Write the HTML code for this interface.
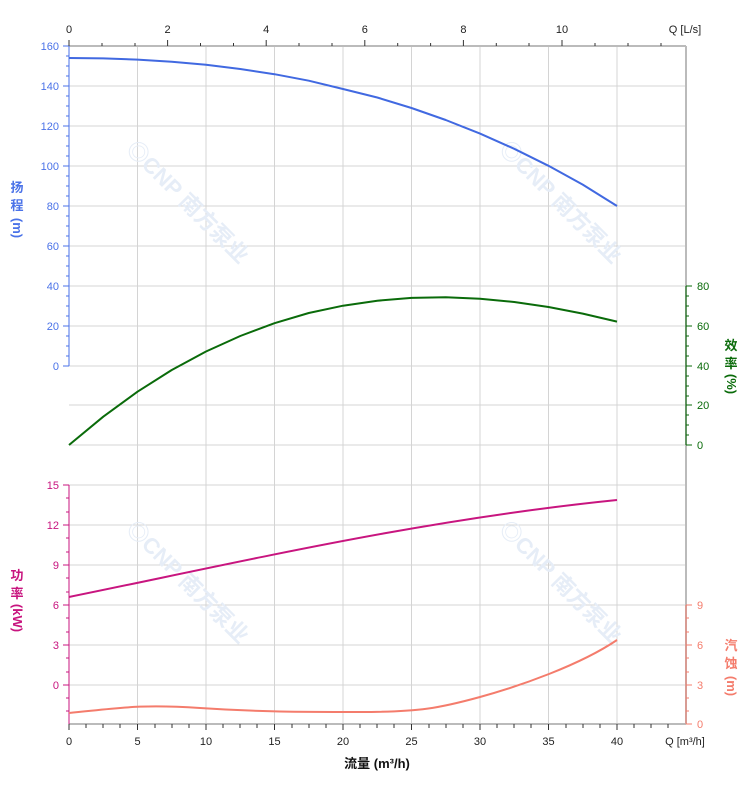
<!DOCTYPE html><html><head><style>body{margin:0;background:#fff}svg{display:block;font-family:"Liberation Sans","Noto Sans CJK SC",sans-serif}</style></head><body>
<svg width="752" height="797" viewBox="0 0 752 797">
<g stroke="#d4d4d4" stroke-width="1">
<line x1="69" y1="86" x2="686" y2="86"/><line x1="69" y1="126" x2="686" y2="126"/><line x1="69" y1="166" x2="686" y2="166"/><line x1="69" y1="206" x2="686" y2="206"/><line x1="69" y1="246" x2="686" y2="246"/><line x1="69" y1="286" x2="686" y2="286"/><line x1="69" y1="326" x2="686" y2="326"/><line x1="69" y1="366" x2="686" y2="366"/><line x1="69" y1="405" x2="686" y2="405"/><line x1="69" y1="445" x2="686" y2="445"/><line x1="69" y1="485" x2="686" y2="485"/><line x1="69" y1="525" x2="686" y2="525"/><line x1="69" y1="565" x2="686" y2="565"/><line x1="69" y1="605" x2="686" y2="605"/><line x1="69" y1="645" x2="686" y2="645"/><line x1="69" y1="685" x2="686" y2="685"/>
<line x1="137.5" y1="46" x2="137.5" y2="724"/><line x1="206" y1="46" x2="206" y2="724"/><line x1="274.5" y1="46" x2="274.5" y2="724"/><line x1="343" y1="46" x2="343" y2="724"/><line x1="411.5" y1="46" x2="411.5" y2="724"/><line x1="480" y1="46" x2="480" y2="724"/><line x1="548.5" y1="46" x2="548.5" y2="724"/><line x1="617" y1="46" x2="617" y2="724"/>
</g>
<g stroke="#bbb" stroke-width="2"><line x1="69" y1="46" x2="686" y2="46"/><line x1="69" y1="724" x2="686" y2="724"/><line x1="686" y1="46" x2="686" y2="724"/></g>
<g fill="#e6edf7" font-weight="bold" font-size="22">
<text transform="translate(125,150) rotate(45)">◎CNP 南方泵业</text>
<text transform="translate(498,150) rotate(45)">◎CNP 南方泵业</text>
<text transform="translate(125,530) rotate(45)">◎CNP 南方泵业</text>
<text transform="translate(498,530) rotate(45)">◎CNP 南方泵业</text>
</g>
<g stroke="#4a72e8"><line x1="69" y1="46" x2="69" y2="366"/>
<path d="M63 46h6M63 86h6M63 126h6M63 166h6M63 206h6M63 246h6M63 286h6M63 326h6M63 366h6M66 56h3M66 66h3M66 76h3M66 96h3M66 106h3M66 116h3M66 136h3M66 146h3M66 156h3M66 176h3M66 186h3M66 196h3M66 216h3M66 226h3M66 236h3M66 256h3M66 266h3M66 276h3M66 296h3M66 306h3M66 316h3M66 336h3M66 346h3M66 356h3"/></g>
<g fill="#4a72e8" font-size="11" text-anchor="end"><text x="59" y="50">160</text><text x="59" y="90">140</text><text x="59" y="130">120</text><text x="59" y="170">100</text><text x="59" y="210">80</text><text x="59" y="250">60</text><text x="59" y="290">40</text><text x="59" y="330">20</text><text x="59" y="370">0</text></g>
<g fill="#4a72e8" font-size="13" font-weight="bold" text-anchor="middle"><text x="17" y="192">扬</text><text x="17" y="210">程</text><text x="17" y="232" transform="rotate(90 17 228)">(m)</text></g>
<g stroke="#c8157f"><line x1="69" y1="485" x2="69" y2="724"/>
<path d="M63 485h6M63 525h6M63 565h6M63 605h6M63 645h6M63 685h6M66 498h3M66 512h3M66 538h3M66 552h3M66 578h3M66 592h3M66 618h3M66 632h3M66 658h3M66 672h3M66 698h3M66 711h3"/></g>
<g fill="#c8157f" font-size="11" text-anchor="end"><text x="59" y="489">15</text><text x="59" y="529">12</text><text x="59" y="569">9</text><text x="59" y="609">6</text><text x="59" y="649">3</text><text x="59" y="689">0</text></g>
<g fill="#c8157f" font-size="13" font-weight="bold" text-anchor="middle"><text x="17" y="580">功</text><text x="17" y="598">率</text><text x="17" y="622" transform="rotate(90 17 618)">(kW)</text></g>
<g stroke="#0a6b0a"><line x1="686" y1="286" x2="686" y2="445"/>
<path d="M686 286h6M686 326h6M686 366h6M686 405h6M686 445h6M686 296h3M686 306h3M686 316h3M686 336h3M686 346h3M686 356h3M686 376h3M686 386h3M686 396h3M686 415h3M686 425h3M686 435h3"/></g>
<g fill="#0a6b0a" font-size="11"><text x="697" y="290">80</text><text x="697" y="330">60</text><text x="697" y="370">40</text><text x="697" y="409">20</text><text x="697" y="449">0</text></g>
<g fill="#0a6b0a" font-size="13" font-weight="bold" text-anchor="middle"><text x="731" y="350">效</text><text x="731" y="368">率</text><text x="731" y="388" transform="rotate(90 731 384)">(%)</text></g>
<g stroke="#f47c6c"><line x1="686" y1="605" x2="686" y2="724"/>
<path d="M686 605h6M686 645h6M686 685h6M686 724h6M686 618h3M686 632h3M686 658h3M686 672h3M686 698h3M686 711h3"/></g>
<g fill="#f47c6c" font-size="11"><text x="697" y="609">9</text><text x="697" y="649">6</text><text x="697" y="689">3</text><text x="697" y="728">0</text></g>
<g fill="#f47c6c" font-size="13" font-weight="bold" text-anchor="middle"><text x="731" y="650">汽</text><text x="731" y="668">蚀</text><text x="731" y="690" transform="rotate(90 731 686)">(m)</text></g>
<g stroke="#333"><path d="M69 46v-6M167.6 46v-6M266.2 46v-6M364.8 46v-6M463.4 46v-6M562 46v-6M102 46v-3M135 46v-3M200.5 46v-3M233.5 46v-3M299 46v-3M332 46v-3M397.7 46v-3M430.6 46v-3M496.3 46v-3M529 46v-3M595 46v-3M628 46v-3M661 46v-3"/></g>
<g fill="#222" font-size="11" text-anchor="middle"><text x="69" y="33">0</text><text x="167.6" y="33">2</text><text x="266.2" y="33">4</text><text x="364.8" y="33">6</text><text x="463.4" y="33">8</text><text x="562" y="33">10</text><text x="685" y="33">Q [L/s]</text></g>
<g stroke="#333"><path d="M69 724v6M137.5 724v6M206 724v6M274.5 724v6M343 724v6M411.5 724v6M480 724v6M548.5 724v6M617 724v6"/>
<path d="M86 724v4M103 724v4M120 724v4M155 724v4M172 724v4M189 724v4M223 724v4M240 724v4M257 724v4M292 724v4M309 724v4M326 724v4M360 724v4M377 724v4M394 724v4M429 724v4M446 724v4M463 724v4M497 724v4M514 724v4M531 724v4M566 724v4M583 724v4M600 724v4M634 724v4M651 724v4M668 724v4"/></g>
<g fill="#222" font-size="11" text-anchor="middle"><text x="69" y="745">0</text><text x="137.5" y="745">5</text><text x="206" y="745">10</text><text x="274.5" y="745">15</text><text x="343" y="745">20</text><text x="411.5" y="745">25</text><text x="480" y="745">30</text><text x="548.5" y="745">35</text><text x="617" y="745">40</text><text x="685" y="745">Q [m³/h]</text></g>
<text x="377" y="768" font-size="13" font-weight="bold" text-anchor="middle" fill="#111">流量 (m³/h)</text>
<g fill="none" stroke-width="2" stroke-linejoin="round">
<polyline stroke="#4169e1" points="69,58 103.25,58.4 137.5,59.6 171.75,61.8 206,64.8 240.25,69 274.5,74.2 308.75,80.7 343,89 377.25,97.5 411.5,108 445.75,120 480,133.6 514.25,148.8 548.5,165.8 582.75,184.6 617,206"/>
<polyline stroke="#0a6b0a" points="69,445 103.25,416.7 137.5,391.7 171.75,370 206,351.5 240.25,336 274.5,323.2 308.75,313 343,305.7 377.25,300.7 411.5,297.9 445.75,297.3 480,298.7 514.25,302 548.5,307 582.75,313.6 617,321.6"/>
<path stroke="#c8157f" d="M69 597 C250 560 420 520 617 500"/>
<path stroke="#f47c6c" d="M69 713 C120 708 140 704 200 708 C260 712 300 712 360 712 C420 712 440 708 480 697 C520 686 580 665 617 640"/>
</g>
</svg>
</body></html>
